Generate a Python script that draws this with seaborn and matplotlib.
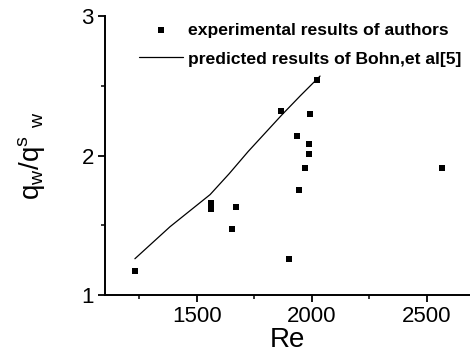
import matplotlib
matplotlib.use('Agg')
import matplotlib.pyplot as plt
import seaborn as sns
import pandas as pd

# experimental points (Re, qw/qsw)
re_exp = [1230, 1561, 1563, 1652, 1670, 1865, 1900, 1935, 1943, 1970, 1987, 1987, 1991, 2022, 2565]
q_exp = [1.17, 1.62, 1.66, 1.47, 1.63, 2.32, 1.26, 2.14, 1.75, 1.91, 2.08, 2.01, 2.30, 2.54, 1.91]

# predicted curve (Bohn et al)
re_pred = [1230, 1383, 1557, 1640, 1723, 1868, 1950, 2035]
q_pred = [1.26, 1.49, 1.72, 1.87, 2.03, 2.29, 2.43, 2.57]

exp_df = pd.DataFrame({'Re': re_exp, 'q': q_exp})
pred_df = pd.DataFrame({'Re': re_pred, 'q': q_pred})

sns.set_style('ticks')
plt.rcParams['font.family'] = ['Liberation Sans', 'DejaVu Sans']
plt.rcParams['mathtext.default'] = 'regular'
plt.rcParams['text.color'] = 'black'
plt.rcParams['axes.labelcolor'] = 'black'
plt.rcParams['xtick.color'] = 'black'
plt.rcParams['ytick.color'] = 'black'
plt.rcParams['axes.edgecolor'] = 'black'

fig = plt.figure(figsize=(4.7, 3.58), dpi=100)
ax = fig.add_axes([0.2234, 0.176, 0.7766, 0.779])

sns.lineplot(data=pred_df, x='Re', y='q', color='black', linewidth=0.9,
             label='predicted results of Bohn,et al[5]', ax=ax)
sns.scatterplot(data=exp_df, x='Re', y='q', marker='s', color='black', s=22,
                edgecolor='black', linewidth=0, label='experimental results of authors', ax=ax)

ax.set_xlim(1100, 2687)
ax.set_ylim(1, 3)
ax.set_xticks([1500, 2000, 2500])
ax.set_xticks([1250, 1750, 2250], minor=True)
ax.set_yticks([1, 2, 3])
ax.set_yticks([1.5, 2.5], minor=True)
ax.tick_params(axis='both', which='major', labelsize=16, length=5, width=1.3, direction='out', pad=3)
ax.tick_params(axis='both', which='minor', length=3, width=1.1, direction='out')

for side in ['top', 'right']:
    ax.spines[side].set_visible(False)
for side in ['left', 'bottom']:
    ax.spines[side].set_linewidth(1.4)

ax.set_xlabel('Re', fontsize=20, labelpad=0)
ax.set_ylabel(r'q$_{w}$/q$^{s}$ $_{w}$', fontsize=20, labelpad=25)

handles, labels = ax.get_legend_handles_labels()
order = [1, 0]
ax.legend([handles[i] for i in order], [labels[i] for i in order],
          loc='upper left', bbox_to_anchor=(0.281, 0.957), bbox_transform=fig.transFigure,
          frameon=False, prop={'size': 12.6, 'weight': 'bold'}, handlelength=2.5,
          handletextpad=0.3, labelspacing=0.78, borderaxespad=0)

fig.savefig('out.png', dpi=100)
